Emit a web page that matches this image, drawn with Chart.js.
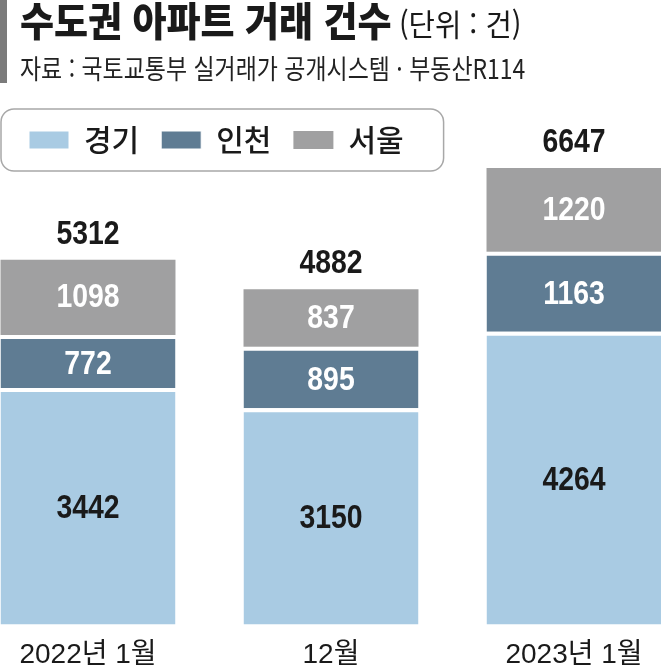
<!DOCTYPE html>
<html lang="ko">
<head>
<meta charset="utf-8">
<script src="https://cdn.jsdelivr.net/npm/chart.js@4/dist/chart.umd.min.js"></script>
<style>
  body { margin: 0; background: #fff; }
  #wrap { position: relative; width: 661px; height: 669px; overflow: hidden; }
  #wrap canvas { position: absolute; left: 0; top: 0; }
  .mark { position: absolute; left: 0; top: 0; width: 7px; height: 83px; background: #7b7b7b; }
  .title { position: absolute; left: 20px; top: -5px; white-space: nowrap; transform: scaleX(0.925); transform-origin: left top;
    font-family: "Noto Sans CJK KR", sans-serif; color: #1a1a1a; line-height: 1.2; }
  .title b { font-size: 40px; font-weight: 900; }
  .title span { font-size: 31px; font-weight: 400; margin-left: 8px; }
  .source { position: absolute; left: 20px; top: 52px; white-space: nowrap; transform: scaleX(0.85); transform-origin: left top;
    font-family: "Noto Sans CJK KR", sans-serif; font-size: 27px; color: #222; line-height: 1.2; }
</style>
</head>
<body>
<div id="wrap">
  <canvas id="aptChart" width="661" height="669"></canvas>
  <div class="mark"></div>
  <div class="title"><b>수도권 아파트 거래 건수</b><span>(단위 : 건)</span></div>
  <div class="source">자료 : 국토교통부 실거래가 공개시스템 · 부동산R114</div>
</div>
<script>
const categories = ['2022년 1월', '12월', '2023년 1월'];
const seriesNames = ['경기', '인천', '서울'];
const gyeonggi = [3442, 3150, 4264];
const incheon = [772, 895, 1163];
const seoul = [1098, 837, 1220];
const totals = [5312, 4882, 6647];

const numFont = '"Liberation Sans", Arial, sans-serif';

// narrow text: squeeze horizontally like the condensed face of the original
function narrowText(ctx, text, x, y) {
  ctx.save();
  ctx.translate(x, y);
  ctx.scale(0.86, 1);
  ctx.fillText(text, 0, 0);
  ctx.restore();
}

// value labels inside each segment + totals on top
const valueLabels = {
  id: 'valueLabels',
  afterDatasetsDraw(chart) {
    const ctx = chart.ctx;
    ctx.save();
    ctx.textAlign = 'center';
    ctx.font = 'bold 33px ' + numFont;
    chart.data.datasets.forEach((ds, i) => {
      const meta = chart.getDatasetMeta(i);
      const gap = ds.borderWidth && ds.borderWidth.top ? ds.borderWidth.top : 0;
      meta.data.forEach((bar, j) => {
        ctx.fillStyle = i === 0 ? '#1a1a1a' : '#ffffff';
        ctx.textBaseline = 'middle';
        narrowText(ctx, ds.data[j], bar.x, (bar.y + gap + bar.base) / 2 + 1);
      });
    });
    const top = chart.getDatasetMeta(chart.data.datasets.length - 1);
    ctx.fillStyle = '#1a1a1a';
    ctx.textBaseline = 'alphabetic';
    ctx.font = 'bold 33px ' + numFont;
    top.data.forEach((bar, j) => {
      narrowText(ctx, totals[j], bar.x, bar.y - 16);
    });
    ctx.restore();
  }
};

// rounded frame round the legend
const legendFrame = {
  id: 'legendFrame',
  afterDraw(chart) {
    const boxes = chart.legend.legendHitBoxes;
    if (!boxes || !boxes.length) return;
    const ctx = chart.ctx;
    const first = boxes[0], last = boxes[boxes.length - 1];
    const cy = first.top + first.height / 2;
    const x0 = 1, x1 = last.left + last.width + 40;
    ctx.save();
    ctx.strokeStyle = '#a8a8a8';
    ctx.lineWidth = 1.5;
    ctx.beginPath();
    ctx.roundRect(x0, cy - 31, x1 - x0, 62, 13);
    ctx.stroke();
    ctx.restore();
  }
};

const data = {
  labels: categories,
  datasets: [{
    label: seriesNames[0],
    data: gyeonggi,
    backgroundColor: '#a9cbe3',
    borderColor: '#ffffff',
    borderWidth: {top: 4, left: 0, right: 0, bottom: 0},
    borderSkipped: false
  }, {
    label: seriesNames[1],
    data: incheon,
    backgroundColor: '#5f7c93',
    borderColor: '#ffffff',
    borderWidth: {top: 4, left: 0, right: 0, bottom: 0},
    borderSkipped: false
  }, {
    label: seriesNames[2],
    data: seoul,
    backgroundColor: '#a0a0a1',
    borderWidth: 0
  }]
};

const config = {
  type: 'bar',
  data: data,
  options: {
    responsive: false,
    animation: false,
    events: [],
    categoryPercentage: 1,
    barPercentage: 0.72,
    clip: false,
    layout: { padding: { left: 7, right: 87, top: 103, bottom: 0 } },
    plugins: {
      title: { display: false },
      tooltip: { enabled: false },
      legend: {
        position: 'top',
        align: 'start',
        labels: {
          boxWidth: 40,
          boxHeight: 18,
          padding: 22,
          color: '#1a1a1a',
          font: { family: '"Noto Sans CJK KR", sans-serif', size: 30, weight: '500' }
        }
      }
    },
    scales: {
      x: {
        stacked: true,
        offset: false,
        grid: { display: false, drawTicks: false },
        border: { display: false },
        ticks: {
          padding: 14,
          color: '#1a1a1a',
          font: { family: numFont + ', "Noto Sans CJK KR"', size: 28 }
        },
        afterFit(scale) { scale.height = 44.5; }
      },
      y: {
        stacked: true,
        min: 0,
        max: 6690,
        grid: { display: false, drawTicks: false },
        border: { display: false },
        ticks: { display: false },
        afterFit(scale) { scale.width = 81; }
      }
    }
  },
  plugins: [valueLabels, legendFrame]
};

const aptChart = new Chart(document.getElementById('aptChart'), config);
</script>
</body>
</html>
